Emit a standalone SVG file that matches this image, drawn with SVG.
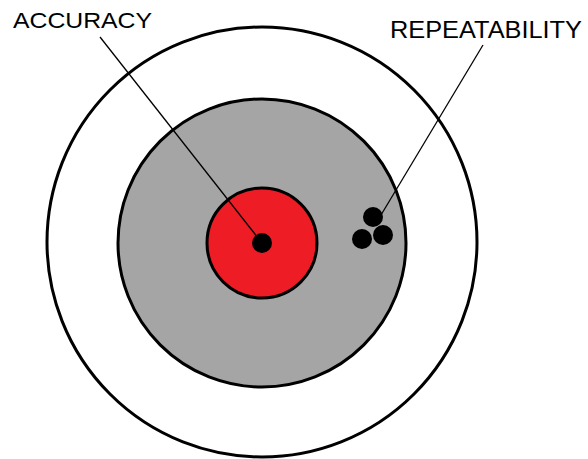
<svg xmlns="http://www.w3.org/2000/svg" width="588" height="459" viewBox="0 0 588 459">
<style>
.ring{stroke:#000;stroke-width:3}
.dot{fill:#000}
.lbl{font-family:"Liberation Sans",Arial,sans-serif;fill:#000}
.lead{stroke:#000;stroke-width:1.3;fill:none}
</style>
<rect width="588" height="459" fill="#fff"/>
<g id="target">
<circle class="ring" cx="262" cy="242" r="215" fill="#fff"/>
<circle class="ring" cx="262" cy="243" r="144" fill="#a6a5a5"/>
<circle class="ring" cx="262" cy="243" r="55" fill="#ee1c25"/>
</g>
<g id="accuracy-dot"><circle class="dot" cx="262" cy="243" r="10"/></g>
<g id="repeat-dots">
<circle class="dot" cx="373" cy="217" r="10"/>
<circle class="dot" cx="362" cy="239" r="10"/>
<circle class="dot" cx="383" cy="235" r="10"/>
</g>
<g id="connectors">
<line class="lead" x1="100" y1="37" x2="262" y2="243"/>
<line class="lead" x1="483" y1="45" x2="378" y2="220"/>
</g>
<g id="label-accuracy"><text class="lbl" x="13" y="28" font-size="21.5" textLength="139" lengthAdjust="spacingAndGlyphs">ACCURACY</text></g>
<g id="label-repeatability"><text class="lbl" x="390" y="38" font-size="23.5" textLength="192" lengthAdjust="spacingAndGlyphs">REPEATABILITY</text></g>
</svg>
